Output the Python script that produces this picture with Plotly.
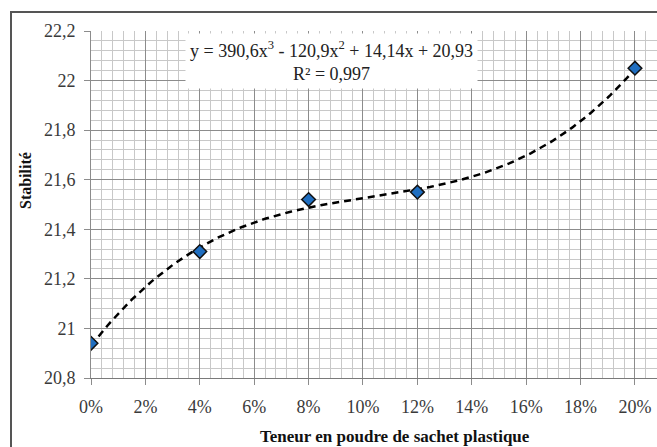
import numpy as np
import plotly.graph_objects as go

# Data
teneur = [0.00, 0.04, 0.08, 0.12, 0.20]
stabilite = [20.94, 21.31, 21.52, 21.55, 22.05]
trend_coeffs = [390.6, -120.9, 14.14, 20.93]  # y = 390,6x^3 - 120,9x^2 + 14,14x + 20,93
equation_text = "y = 390,6x<sup>3</sup> - 120,9x<sup>2</sup> + 14,14x + 20,93"
r2_text = "R² = 0,997"

x_tick_vals = [0.00, 0.02, 0.04, 0.06, 0.08, 0.10, 0.12, 0.14, 0.16, 0.18, 0.20]
x_tick_text = ["0%", "2%", "4%", "6%", "8%", "10%", "12%", "14%", "16%", "18%", "20%"]
y_tick_vals = [20.8, 21.0, 21.2, 21.4, 21.6, 21.8, 22.0, 22.2]
y_tick_text = ["20,8", "21", "21,2", "21,4", "21,6", "21,8", "22", "22,2"]

x_title = "Teneur en poudre de sachet plastique"
y_title = "Stabilité"

# Trendline evaluated from the displayed polynomial
x_trend = np.linspace(min(teneur), max(teneur), 200)
y_trend = np.polyval(trend_coeffs, x_trend)

W, H = 657, 447
L, T, B, R = 91, 31, 69, 0
serif = "Liberation Serif, Times New Roman, serif"

fig = go.Figure()
fig.add_trace(go.Scatter(
    x=x_trend, y=y_trend, mode="lines",
    line=dict(color="black", width=2.5, dash="7px,5px"),
    hoverinfo="skip", showlegend=False,
))
fig.add_trace(go.Scatter(
    x=teneur, y=stabilite, mode="markers",
    marker=dict(symbol="diamond", size=10.5, color="#1F6EC0",
                line=dict(color="#111111", width=1.5)),
    showlegend=False,
))

pw = W - L - R
ph = H - T - B

fig.update_layout(
    width=W, height=H,
    margin=dict(l=L, r=R, t=T, b=B, pad=0),
    paper_bgcolor="white", plot_bgcolor="white",
    font=dict(family=serif, color="#333333", size=18),
    xaxis=dict(
        range=[0, 0.2081], tickmode="array", tickvals=x_tick_vals, ticktext=x_tick_text,
        showgrid=True, gridcolor="#8c8c8c", gridwidth=1,
        minor=dict(dtick=0.004, tick0=0, showgrid=True, gridcolor="#c8c8c8", gridwidth=1, ticks=""),
        ticks="outside", ticklen=6, tickcolor="#8c8c8c", tickwidth=1,
        showline=True, linecolor="#7a7a7a", linewidth=1,
        tickfont=dict(size=18, color="#3a3a3a", family=serif),
        ticklabelstandoff=6, zeroline=False,
    ),
    yaxis=dict(
        range=[20.8, 22.2], tickmode="array", tickvals=y_tick_vals, ticktext=y_tick_text,
        showgrid=True, gridcolor="#8c8c8c", gridwidth=1,
        minor=dict(dtick=0.04, tick0=20.8, showgrid=True, gridcolor="#c8c8c8", gridwidth=1, ticks=""),
        ticks="outside", ticklen=6, tickcolor="#8c8c8c", tickwidth=1,
        showline=True, linecolor="#8c8c8c", linewidth=1,
        tickfont=dict(size=18, color="#3a3a3a", family=serif),
        ticklabelstandoff=5, zeroline=False,
    ),
    shapes=[dict(
        type="rect", xref="paper", yref="paper", layer="above",
        x0=(11 - L) / pw, x1=1.2, y0=-0.5, y1=(H - B - 12) / ph,
        line=dict(color="#555555", width=2), fillcolor="rgba(0,0,0,0)",
    )],
    annotations=[
        dict(
            xref="paper", yref="paper", x=(331 - L) / pw, y=(H - B - 60.5) / ph,
            text=equation_text + "<br>" + r2_text, showarrow=False,
            align="center", xanchor="center", yanchor="middle",
            bgcolor="white", borderpad=4,
            font=dict(size=18, color="#222222", family=serif),
        ),
        dict(
            xref="paper", yref="paper", x=(395 - L) / pw, y=(H - B - 436) / ph,
            text="<b>" + x_title + "</b>", showarrow=False,
            xanchor="center", yanchor="middle",
            font=dict(size=17, color="#111111", family=serif),
        ),
        dict(
            xref="paper", yref="paper", x=(25 - L) / pw, y=(H - B - 181) / ph,
            text="<b>" + y_title + "</b>", showarrow=False, textangle=-90,
            xanchor="center", yanchor="middle",
            font=dict(size=16, color="#111111", family=serif),
        ),
    ],
)

fig.write_html(
    "out.html",
    config={"displayModeBar": False},
    post_script="document.body.style.margin='0';document.body.style.padding='0';"
                "document.documentElement.style.overflow='hidden';",
)
